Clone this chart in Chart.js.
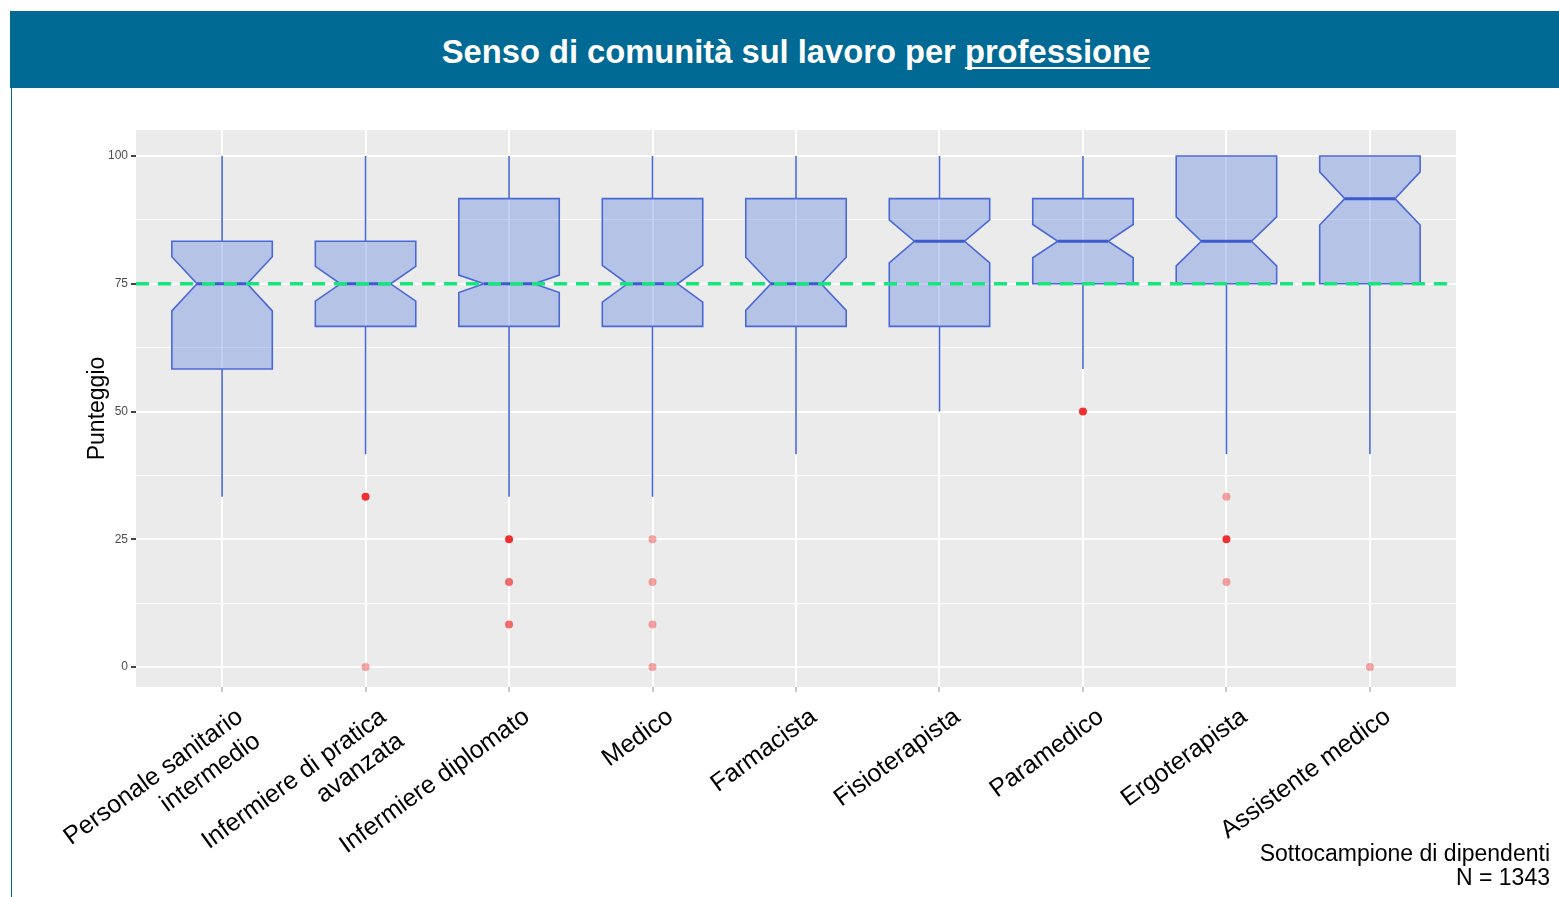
<!DOCTYPE html>
<html lang="it">
<head>
<meta charset="utf-8">
<title>Senso di comunità sul lavoro per professione</title>
<script src="https://cdn.jsdelivr.net/npm/chart.js@4.4.1/dist/chart.umd.min.js"></script>
<style>
    body { margin: 0; background: #fff; overflow: hidden; font-family: "Liberation Sans", Arial, sans-serif; }
    #page { position: relative; width: 1559px; height: 897px; }
    #banner { position: absolute; left: 10px; top: 11px; width: 1549px; height: 77px; background: #016a94; }
    #banner h1 { position: absolute; left: 786px; top: 25px; margin: 0; transform: translateX(-50%);
                 font-size: 32.7px; line-height: 32px; font-weight: bold; color: #fff; white-space: nowrap; }
    #banner h1 u { text-decoration-thickness: 2px; text-underline-offset: 4px; text-decoration-skip-ink: none; }
    #frame { position: absolute; left: 11px; top: 88px; width: 1px; height: 809px; background: #016a94; }
    #wrap { position: absolute; left: 0; top: 0; width: 1559px; height: 897px; }
    #note { position: absolute; right: 9px; top: 841px; font-size: 23px; line-height: 24px; text-align: right; color: #000; }
</style>
</head>
<body>
<div id="page">
    <div id="wrap"><canvas id="boxChart"></canvas></div>
    <div id="banner"><h1>Senso di comunità sul lavoro per <u>professione</u></h1></div>
    <div id="frame"></div>
    <div id="note">Sottocampione di dipendenti<br>N = 1343</div>
</div>

<script>
// professions on the x axis (arrays = two-line labels)
const professioni = [
    ['Personale sanitario', 'intermedio'],
    ['Infermiere di pratica', 'avanzata'],
    'Infermiere diplomato',
    'Medico',
    'Farmacista',
    'Fisioterapista',
    'Paramedico',
    'Ergoterapista',
    'Assistente medico'
];

// box statistics per profession (score 0-100)
const baffoBasso = [33.33, 41.67, 33.33, 33.33, 41.67, 50, 58.33, 41.67, 41.67];
const q1         = [58.33, 66.67, 66.67, 66.67, 66.67, 66.67, 75, 75, 75];
const mediana    = [75, 75, 75, 75, 75, 83.33, 83.33, 83.33, 91.67];
const q3         = [83.33, 83.33, 91.67, 91.67, 91.67, 91.67, 91.67, 100, 100];
const baffoAlto  = [100, 100, 100, 100, 100, 100, 100, 100, 100];
const notchBasso = [69.7, 71.6, 73.3, 71.4, 69.8, 79.1, 80.1, 78.5, 86.5];
const notchAlto  = [80.3, 78.4, 76.7, 78.6, 80.2, 87.5, 86.6, 88.1, 96.9];

// outliers: profession index, score, how many respondents share that point
const outlierX = [1, 1, 2, 2, 2, 3, 3, 3, 3, 6, 7, 7, 7, 8];
const outlierY = [33.33, 0, 25, 16.67, 8.33, 25, 16.67, 8.33, 0, 50, 33.33, 25, 16.67, 0];
const outlierN = [5, 1, 5, 2, 2, 1, 1, 1, 1, 5, 1, 5, 1, 1];

// y axis
const yTicks = [0, 25, 50, 75, 100];
const yMinor = [12.5, 37.5, 62.5, 87.5];
const riferimento = 75;   // dashed green reference line

const FONT = '"Liberation Sans", Arial, sans-serif';
const BOX_HALF = 0.35;    // half box width in category units

// grey panel behind the grid
const panelBackground = {
    id: 'panelBackground',
    beforeDraw(chart) {
        const {ctx, chartArea: a} = chart;
        ctx.save();
        ctx.fillStyle = '#ebebeb';
        ctx.fillRect(a.left, a.top, a.right - a.left, a.bottom - a.top);
        ctx.restore();
    }
};

// notched boxes + whiskers, drawn with the chart's own scales
const notchedBoxes = {
    id: 'notchedBoxes',
    beforeDatasetsDraw(chart) {
        const {ctx, scales: {x, y}} = chart;
        ctx.save();
        professioni.forEach((p, i) => {
            const cx = x.getPixelForValue(i);
            const w = x.getPixelForValue(i + BOX_HALF) - cx;
            const yq1 = y.getPixelForValue(q1[i]);
            const yq3 = y.getPixelForValue(q3[i]);
            const ymed = y.getPixelForValue(mediana[i]);
            const ynLo = y.getPixelForValue(notchBasso[i]);
            const ynHi = y.getPixelForValue(notchAlto[i]);

            // whiskers
            ctx.strokeStyle = '#4b69d6';
            ctx.lineWidth = 1.6;
            ctx.beginPath();
            ctx.moveTo(cx, yq3);
            ctx.lineTo(cx, y.getPixelForValue(baffoAlto[i]));
            ctx.moveTo(cx, yq1);
            ctx.lineTo(cx, y.getPixelForValue(baffoBasso[i]));
            ctx.stroke();

            // notched box outline
            ctx.beginPath();
            ctx.moveTo(cx - w, yq3);
            ctx.lineTo(cx + w, yq3);
            ctx.lineTo(cx + w, ynHi);
            ctx.lineTo(cx + w / 2, ymed);
            ctx.lineTo(cx + w, ynLo);
            ctx.lineTo(cx + w, yq1);
            ctx.lineTo(cx - w, yq1);
            ctx.lineTo(cx - w, ynLo);
            ctx.lineTo(cx - w / 2, ymed);
            ctx.lineTo(cx - w, ynHi);
            ctx.closePath();
            ctx.fillStyle = 'rgba(100, 135, 225, 0.4)';
            ctx.fill();
            ctx.lineJoin = 'miter';
            ctx.stroke();

            // median
            ctx.strokeStyle = '#3d5bcc';
            ctx.lineWidth = 3;
            ctx.beginPath();
            ctx.moveTo(cx - w / 2, ymed);
            ctx.lineTo(cx + w / 2, ymed);
            ctx.stroke();
        });
        ctx.restore();
    },
    afterDatasetsDraw(chart) {
        // reference line at 75
        const {ctx, chartArea: a, scales: {y}} = chart;
        const yy = y.getPixelForValue(riferimento);
        ctx.save();
        ctx.strokeStyle = '#17e67f';
        ctx.lineWidth = 3.5;
        ctx.setLineDash([13, 9]);
        ctx.beginPath();
        ctx.moveTo(a.left, yy);
        ctx.lineTo(a.right, yy);
        ctx.stroke();
        ctx.restore();
    }
};

// overplotted points get darker
function outlierColor(n) {
    const alpha = 1 - Math.pow(0.6, n);
    return 'rgba(240, 30, 30, ' + alpha.toFixed(3) + ')';
}

const ctx = document.getElementById('boxChart');
new Chart(ctx, {
    type: 'scatter',
    data: {
        datasets: [{
            label: 'Outlier',
            data: outlierX.map((v, i) => ({x: v, y: outlierY[i]})),
            pointRadius: 4,
            pointHoverRadius: 4,
            borderWidth: 0,
            backgroundColor: outlierN.map(outlierColor)
        }]
    },
    options: {
        responsive: true,
        maintainAspectRatio: false,
        animation: false,
        layout: { padding: { top: 130, right: 103, bottom: 0, left: 0 } },
        plugins: {
            legend: { display: false },
            tooltip: { enabled: false }
        },
        scales: {
            x: {
                type: 'linear',
                min: -0.6,
                max: professioni.length - 0.4,
                afterBuildTicks: axis => { axis.ticks = professioni.map((p, i) => ({value: i})); },
                afterFit: axis => { axis.height = 210; },
                border: { display: false },
                grid: {
                    color: '#ffffff',
                    lineWidth: 2,
                    tickColor: '#c8c8c8',
                    tickLength: 5
                },
                ticks: {
                    autoSkip: false,
                    minRotation: 36,
                    maxRotation: 36,
                    padding: 10,
                    labelOffset: 18,
                    color: '#000',
                    font: { family: FONT, size: 25 },
                    callback: value => professioni[value]
                }
            },
            y: {
                min: -3.9,
                max: 105.1,
                afterBuildTicks: axis => {
                    axis.ticks = yTicks.concat(yMinor).sort((a, b) => a - b).map(v => ({value: v}));
                },
                afterFit: axis => { axis.width = 136; },
                border: { display: false },
                grid: {
                    color: '#ffffff',
                    lineWidth: c => yTicks.includes(c.tick.value) ? 2 : 1,
                    tickColor: c => yTicks.includes(c.tick.value) ? '#444' : 'rgba(0,0,0,0)',
                    tickLength: 5
                },
                ticks: {
                    padding: 3,
                    color: '#4d4d4d',
                    font: { family: FONT, size: 12 },
                    callback: value => yTicks.includes(value) ? String(value) : ''
                },
                title: {
                    display: true,
                    text: 'Punteggio',
                    color: '#000',
                    font: { family: FONT, size: 23 },
                    padding: { top: 84, bottom: 0 }
                }
            }
        }
    },
    plugins: [panelBackground, notchedBoxes]
});
</script>
</body>
</html>
